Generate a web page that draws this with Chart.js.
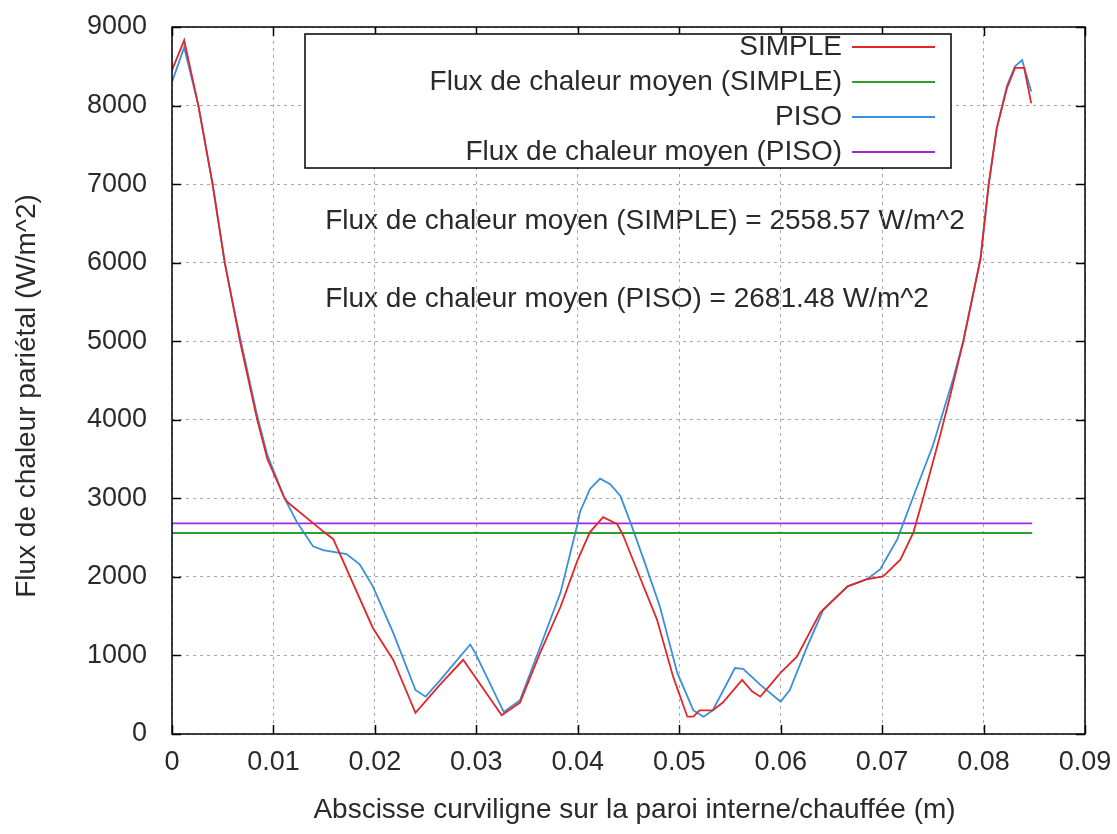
<!DOCTYPE html>
<html>
<head>
<meta charset="utf-8">
<script src="https://cdn.jsdelivr.net/npm/chart.js@4.4.1/dist/chart.umd.min.js"></script>
<style>
    html, body { margin: 0; padding: 0; background: #fff; }
    canvas { display: block; }
</style>
</head>
<body>
<canvas id="chart" width="1117" height="834"></canvas>
<script>
// abscissa (m) and wall heat flux (W/m^2)
const simpleX = [0, 0.0012, 0.0026, 0.004, 0.0052, 0.0059, 0.0067, 0.0084, 0.0094, 0.0111, 0.0114, 0.0149, 0.0159,
    0.0198, 0.0218, 0.024, 0.0264, 0.0287, 0.0325, 0.0343, 0.0363, 0.0383, 0.04, 0.0412, 0.0425, 0.0439, 0.0445,
    0.0462, 0.0478, 0.0494, 0.0508, 0.0514, 0.052, 0.0533, 0.0543, 0.0562, 0.0572, 0.058, 0.06, 0.0616, 0.0639,
    0.0666, 0.0685, 0.0701, 0.0718, 0.0731, 0.0741, 0.0757, 0.0767, 0.078, 0.0797, 0.0805, 0.0813, 0.0823, 0.0831,
    0.084, 0.0847];
const simpleY = [8450, 8830, 8000, 7000, 6000, 5540, 5000, 4000, 3500, 3000, 2950, 2580, 2480,
    1350, 945, 270, 625, 945, 240, 400, 1035, 1620, 2220, 2570, 2760, 2670, 2520,
    1970, 1460, 730, 220, 220, 300, 300, 400, 690, 540, 475, 780, 985, 1545,
    1880, 1970, 2005, 2220, 2570, 3030, 3790, 4300, 5000, 6050, 6990, 7710, 8220, 8480,
    8480, 8030];

const pisoX = [0, 0.0012, 0.0026, 0.004, 0.0052, 0.0059, 0.0067, 0.0084, 0.0094, 0.0111, 0.0123, 0.0139, 0.0149,
    0.0172, 0.0185, 0.0198, 0.0218, 0.024, 0.025, 0.0264, 0.0294, 0.0299, 0.0327, 0.0343, 0.0363, 0.0383, 0.04,
    0.0402, 0.0412, 0.0422, 0.0432, 0.0442, 0.0452, 0.0465, 0.0481, 0.0498, 0.0514, 0.0524, 0.0533, 0.0555, 0.0563,
    0.058, 0.06, 0.0609, 0.0626, 0.0642, 0.0666, 0.0685, 0.0698, 0.0715, 0.0731, 0.075, 0.077, 0.078, 0.0797,
    0.0805, 0.0813, 0.0823, 0.0831, 0.0838, 0.0847];
const pisoY = [8300, 8740, 8000, 7000, 6000, 5540, 5050, 4050, 3550, 3000, 2700, 2390, 2340,
    2290, 2160, 1880, 1290, 560, 475, 680, 1140, 1030, 280, 430, 1110, 1800, 2690,
    2820, 3120, 3250, 3180, 3030, 2690, 2220, 1620, 780, 300, 220, 300, 840, 830,
    625, 410, 560, 1110, 1580, 1880, 1970, 2095, 2480, 3030, 3670, 4520, 5000, 6050,
    6990, 7710, 8250, 8500, 8580, 8180];

const meanSimple = 2558.57;
const meanPiso = 2681.48;
const meanX = [0, 0.0848];

const legendLabels = ['SIMPLE', 'Flux de chaleur moyen (SIMPLE)', 'PISO', 'Flux de chaleur moyen (PISO)'];
const colors = ['#e0282a', '#2ca02c', '#3a8fdc', '#a328d8'];

const FONT = '"Liberation Sans", Arial, sans-serif';
const TEXT = '#2a2a2a';

const pts = (xs, ys) => xs.map((x, i) => ({ x: x, y: ys[i] }));
const flat = (xs, v) => xs.map(x => ({ x: x, y: v }));

// frame, inward ticks, titles, labels and legend box
const decor = {
    id: 'decor',
    beforeDraw(chart) {
        const { ctx, scales: { x, y } } = chart;
        ctx.save();
        ctx.font = '28px ' + FONT;
        ctx.fillStyle = TEXT;
        ctx.textBaseline = 'middle';
        ctx.textAlign = 'left';
        ctx.fillText('Flux de chaleur moyen (SIMPLE) = ' + meanSimple.toFixed(2) + ' W/m^2',
            x.getPixelForValue(0.0151), y.getPixelForValue(6530));
        ctx.fillText('Flux de chaleur moyen (PISO) = ' + meanPiso.toFixed(2) + ' W/m^2',
            x.getPixelForValue(0.0151), y.getPixelForValue(5540));
        ctx.restore();
    },
    afterDraw(chart) {
        const { ctx, chartArea: a, scales: { x, y } } = chart;
        ctx.save();
        ctx.strokeStyle = '#000';
        ctx.lineWidth = 1.5;
        ctx.strokeRect(a.left, a.top, a.right - a.left, a.bottom - a.top);

        ctx.beginPath();
        x.ticks.forEach(t => {
            const px = Math.round(x.getPixelForValue(t.value)) + 0.5;
            ctx.moveTo(px, a.bottom); ctx.lineTo(px, a.bottom - 9);
            ctx.moveTo(px, a.top); ctx.lineTo(px, a.top + 9);
        });
        y.ticks.forEach(t => {
            const py = Math.round(y.getPixelForValue(t.value)) + 0.5;
            ctx.moveTo(a.left, py); ctx.lineTo(a.left + 9, py);
            ctx.moveTo(a.right, py); ctx.lineTo(a.right - 9, py);
        });
        ctx.stroke();

        // axis titles
        ctx.fillStyle = TEXT;
        ctx.font = '28px ' + FONT;
        ctx.textAlign = 'center';
        ctx.textBaseline = 'middle';
        ctx.fillText('Abscisse curviligne sur la paroi interne/chauffée (m)', (a.left + a.right) / 2 + 6, 810);
        ctx.save();
        ctx.translate(27, 396);
        ctx.rotate(-Math.PI / 2);
        ctx.fillText('Flux de chaleur pariétal (W/m^2)', 0, 0);
        ctx.restore();

        // legend box
        const bx = 305, by = 34, bw = 646, bh = 134;
        ctx.fillStyle = '#fff';
        ctx.fillRect(bx, by, bw, bh);
        ctx.lineWidth = 1.5;
        ctx.strokeStyle = '#000';
        ctx.strokeRect(bx, by, bw, bh);
        ctx.textAlign = 'right';
        ctx.fillStyle = TEXT;
        legendLabels.forEach((lab, i) => {
            const ly = 47 + i * 35;
            ctx.fillText(lab, 842, ly);
            ctx.strokeStyle = colors[i];
            ctx.lineWidth = 1.8;
            ctx.beginPath();
            ctx.moveTo(852, ly);
            ctx.lineTo(935, ly);
            ctx.stroke();
        });
        ctx.restore();
    }
};

const line = (label, data, color) => ({
    label: label,
    data: data,
    borderColor: color,
    borderWidth: 1.8,
    pointRadius: 0,
    tension: 0,
    fill: false
});

new Chart(document.getElementById('chart'), {
    type: 'line',
    data: {
        datasets: [
            line(legendLabels[0], pts(simpleX, simpleY), colors[0]),
            line(legendLabels[1], flat(meanX, meanSimple), colors[1]),
            line(legendLabels[2], pts(pisoX, pisoY), colors[2]),
            line(legendLabels[3], flat(meanX, meanPiso), colors[3])
        ]
    },
    options: {
        responsive: false,
        animation: false,
        devicePixelRatio: 1,
        layout: { padding: { top: 27, right: 32, left: 0, bottom: 0 } },
        plugins: {
            legend: { display: false },
            tooltip: { enabled: false }
        },
        scales: {
            x: {
                type: 'linear',
                min: 0,
                max: 0.09,
                afterFit: s => { s.height = 100; s.paddingLeft = 0; s.paddingRight = 0; },
                ticks: {
                    stepSize: 0.01,
                    padding: 12,
                    color: TEXT,
                    font: { family: FONT, size: 27 },
                    maxRotation: 0,
                    callback: v => String(+v.toFixed(2))
                },
                grid: { color: '#a8a8a8', lineWidth: 1, drawTicks: false },
                border: { display: false, dash: [3, 4] }
            },
            y: {
                min: 0,
                max: 9000,
                afterFit: s => { s.width = 172; s.paddingTop = 0; s.paddingBottom = 0; },
                ticks: {
                    stepSize: 1000,
                    padding: 25,
                    color: TEXT,
                    font: { family: FONT, size: 27 },
                    callback: v => String(v)
                },
                grid: { color: '#a8a8a8', lineWidth: 1, drawTicks: false },
                border: { display: false, dash: [3, 4] }
            }
        }
    },
    plugins: [decor]
});
</script>
</body>
</html>
